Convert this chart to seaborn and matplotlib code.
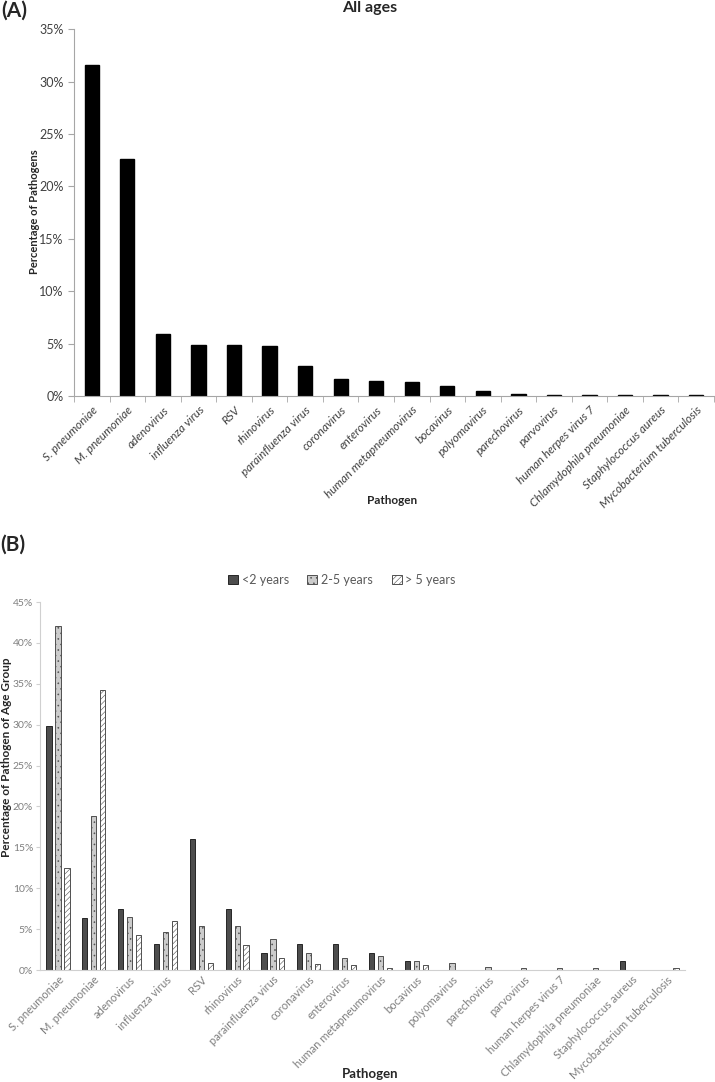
import matplotlib
matplotlib.use("Agg")
import numpy as np
import pandas as pd
import matplotlib.pyplot as plt
import seaborn as sns
from matplotlib.ticker import PercentFormatter, FixedLocator

# category labels
pathogens = ['S. pneumoniae', 'M. pneumoniae', 'adenovirus', 'influenza virus', 'RSV',
             'rhinovirus', 'parainfluenza virus', 'coronavirus', 'enterovirus',
             'human metapneumovirus', 'bocavirus', 'polyomavirus', 'parechovirus',
             'parvovirus', 'human herpes virus 7', 'Chlamydophila pneumoniae',
             'Staphylococcus aureus', 'Mycobacterium tuberculosis']

# panel A: all ages (%)
all_ages = [31.6, 22.6, 5.9, 4.85, 4.85, 4.8, 2.85, 1.65, 1.4, 1.3, 0.95, 0.45,
            0.2, 0.1, 0.1, 0.1, 0.1, 0.1]

# panel B: by age group (%)
age_groups = ['<2 years', '2-5 years', '> 5 years']
under2 = [29.8, 6.4, 7.4, 3.2, 16.0, 7.4, 2.1, 3.2, 3.2, 2.1, 1.1, 0, 0, 0, 0, 0, 1.1, 0]
age2to5 = [42.1, 18.8, 6.5, 4.6, 5.4, 5.4, 3.8, 2.1, 1.5, 1.7, 1.1, 0.8, 0.35, 0.2, 0.2, 0.2, 0, 0]
over5 = [12.5, 34.3, 4.3, 6.0, 0.9, 3.1, 1.5, 0.7, 0.6, 0.3, 0.6, 0, 0, 0, 0, 0, 0, 0.3]

sns.set_style('white')
plt.rcParams['font.family'] = ['Lato', 'DejaVu Sans']
plt.rcParams['hatch.linewidth'] = 0.4

spine_col = '#a6a6a6'

fig = plt.figure(figsize=(7.15, 10.82), dpi=100)

# ---------- panel A ----------
axA = fig.add_axes([0.1035, 0.634, 0.895, 0.339])
sns.barplot(x=pathogens, y=all_ages, color='black', width=0.4, ax=axA,
            saturation=1, edgecolor='black')
axA.set_ylim(0, 35)
axA.set_xlim(-0.5, len(pathogens) - 0.5)
axA.yaxis.set_major_formatter(PercentFormatter(decimals=0))
axA.set_yticks(np.arange(0, 36, 5))
axA.xaxis.set_minor_locator(FixedLocator(np.arange(-0.5, len(pathogens), 1)))
axA.tick_params(axis='x', which='major', length=0, pad=6)
axA.tick_params(axis='x', which='minor', length=4, color=spine_col, direction='out', bottom=True)
axA.tick_params(axis='y', length=4, color=spine_col, direction='out', left=True,
                labelsize=9, labelcolor='#404040')
axA.set_xticks(range(len(pathogens)))
axA.set_xticklabels(pathogens, rotation=45, ha='right', rotation_mode='anchor',
                    fontsize=8.5, style='italic', color='#404040')
for s in ['top', 'right']:
    axA.spines[s].set_visible(False)
for s in ['left', 'bottom']:
    axA.spines[s].set_color(spine_col)
axA.set_xlabel('')
axA.set_ylabel('')

fig.text(0.002, 0.999, '(A)', fontsize=15, fontweight='bold', va='top', ha='left')
fig.text(0.517, 0.999, 'All ages', fontsize=11.5, fontweight='bold', va='top', ha='center')
fig.text(35 / 715, 1 - 212 / 1082, 'Percentage of Pathogens', rotation=90,
         fontsize=8, fontweight='bold', va='center', ha='center')
fig.text(392 / 715, 1 - 500 / 1082, 'Pathogen', fontsize=8.5, fontweight='bold',
         va='center', ha='center')

# ---------- panel B ----------
dfB = pd.DataFrame({
    'pathogen': pathogens * 3,
    'group': [age_groups[0]] * len(pathogens) + [age_groups[1]] * len(pathogens)
             + [age_groups[2]] * len(pathogens),
    'value': under2 + age2to5 + over5,
})
fills = ['#4d4d4d', '#cccccc', '#ffffff']
hatches = ['', '...', '//////']
edges = ['#262626', '#505050', '#505050']

axB = fig.add_axes([0.056, 0.1035, 0.902, 0.3401])
sns.barplot(data=dfB, x='pathogen', y='value', hue='group', order=pathogens,
            hue_order=age_groups, palette=fills,
            width=0.75, gap=0.42, saturation=1, ax=axB, legend=False)
for cont, h, ec in zip(axB.containers, hatches, edges):
    for bar in cont:
        bar.set_hatch(h)
        bar.set_edgecolor(ec)
        bar.set_linewidth(0.7)

axB.set_ylim(0, 45)
axB.set_xlim(-0.5, len(pathogens) - 0.5)
axB.set_yticks(np.arange(0, 46, 5))
axB.yaxis.set_major_formatter(PercentFormatter(decimals=0))
axB.tick_params(axis='x', length=0, pad=3)
axB.tick_params(axis='y', length=3, color='#d0d0d0', direction='out', left=True,
                labelsize=7.5, labelcolor='#7f7f7f', pad=2)
axB.set_xticks(range(len(pathogens)))
axB.set_xticklabels(pathogens, rotation=45, ha='right', rotation_mode='anchor',
                    fontsize=8, color='#7f7f7f')
for s in ['top', 'right']:
    axB.spines[s].set_visible(False)
for s in ['left', 'bottom']:
    axB.spines[s].set_color('#d0d0d0')
axB.set_xlabel('')
axB.set_ylabel('')

handles = [plt.Rectangle((0, 0), 1, 1, facecolor=c, hatch=h, edgecolor=ec, linewidth=0.7)
           for c, h, ec in zip(fills, hatches, edges)]
fig.legend(handles, age_groups, loc='center', bbox_to_anchor=(0.478, 1 - 580 / 1082),
           ncol=3, frameon=False, fontsize=9, labelcolor='#595959',
           handlelength=0.8, handleheight=0.8, handletextpad=0.3, columnspacing=1.5)

fig.text(0.0, 1 - 545 / 1082, '(B)', fontsize=15, fontweight='bold', va='center', ha='left')
fig.text(7 / 715, 1 - 757 / 1082, 'Percentage of Pathogen of Age Group', rotation=90,
         fontsize=8.5, fontweight='bold', va='center', ha='center')
fig.text(370 / 715, 1 - 1074 / 1082, 'Pathogen', fontsize=9.5, fontweight='bold',
         va='center', ha='center')

fig.savefig('out.png', dpi=100)
